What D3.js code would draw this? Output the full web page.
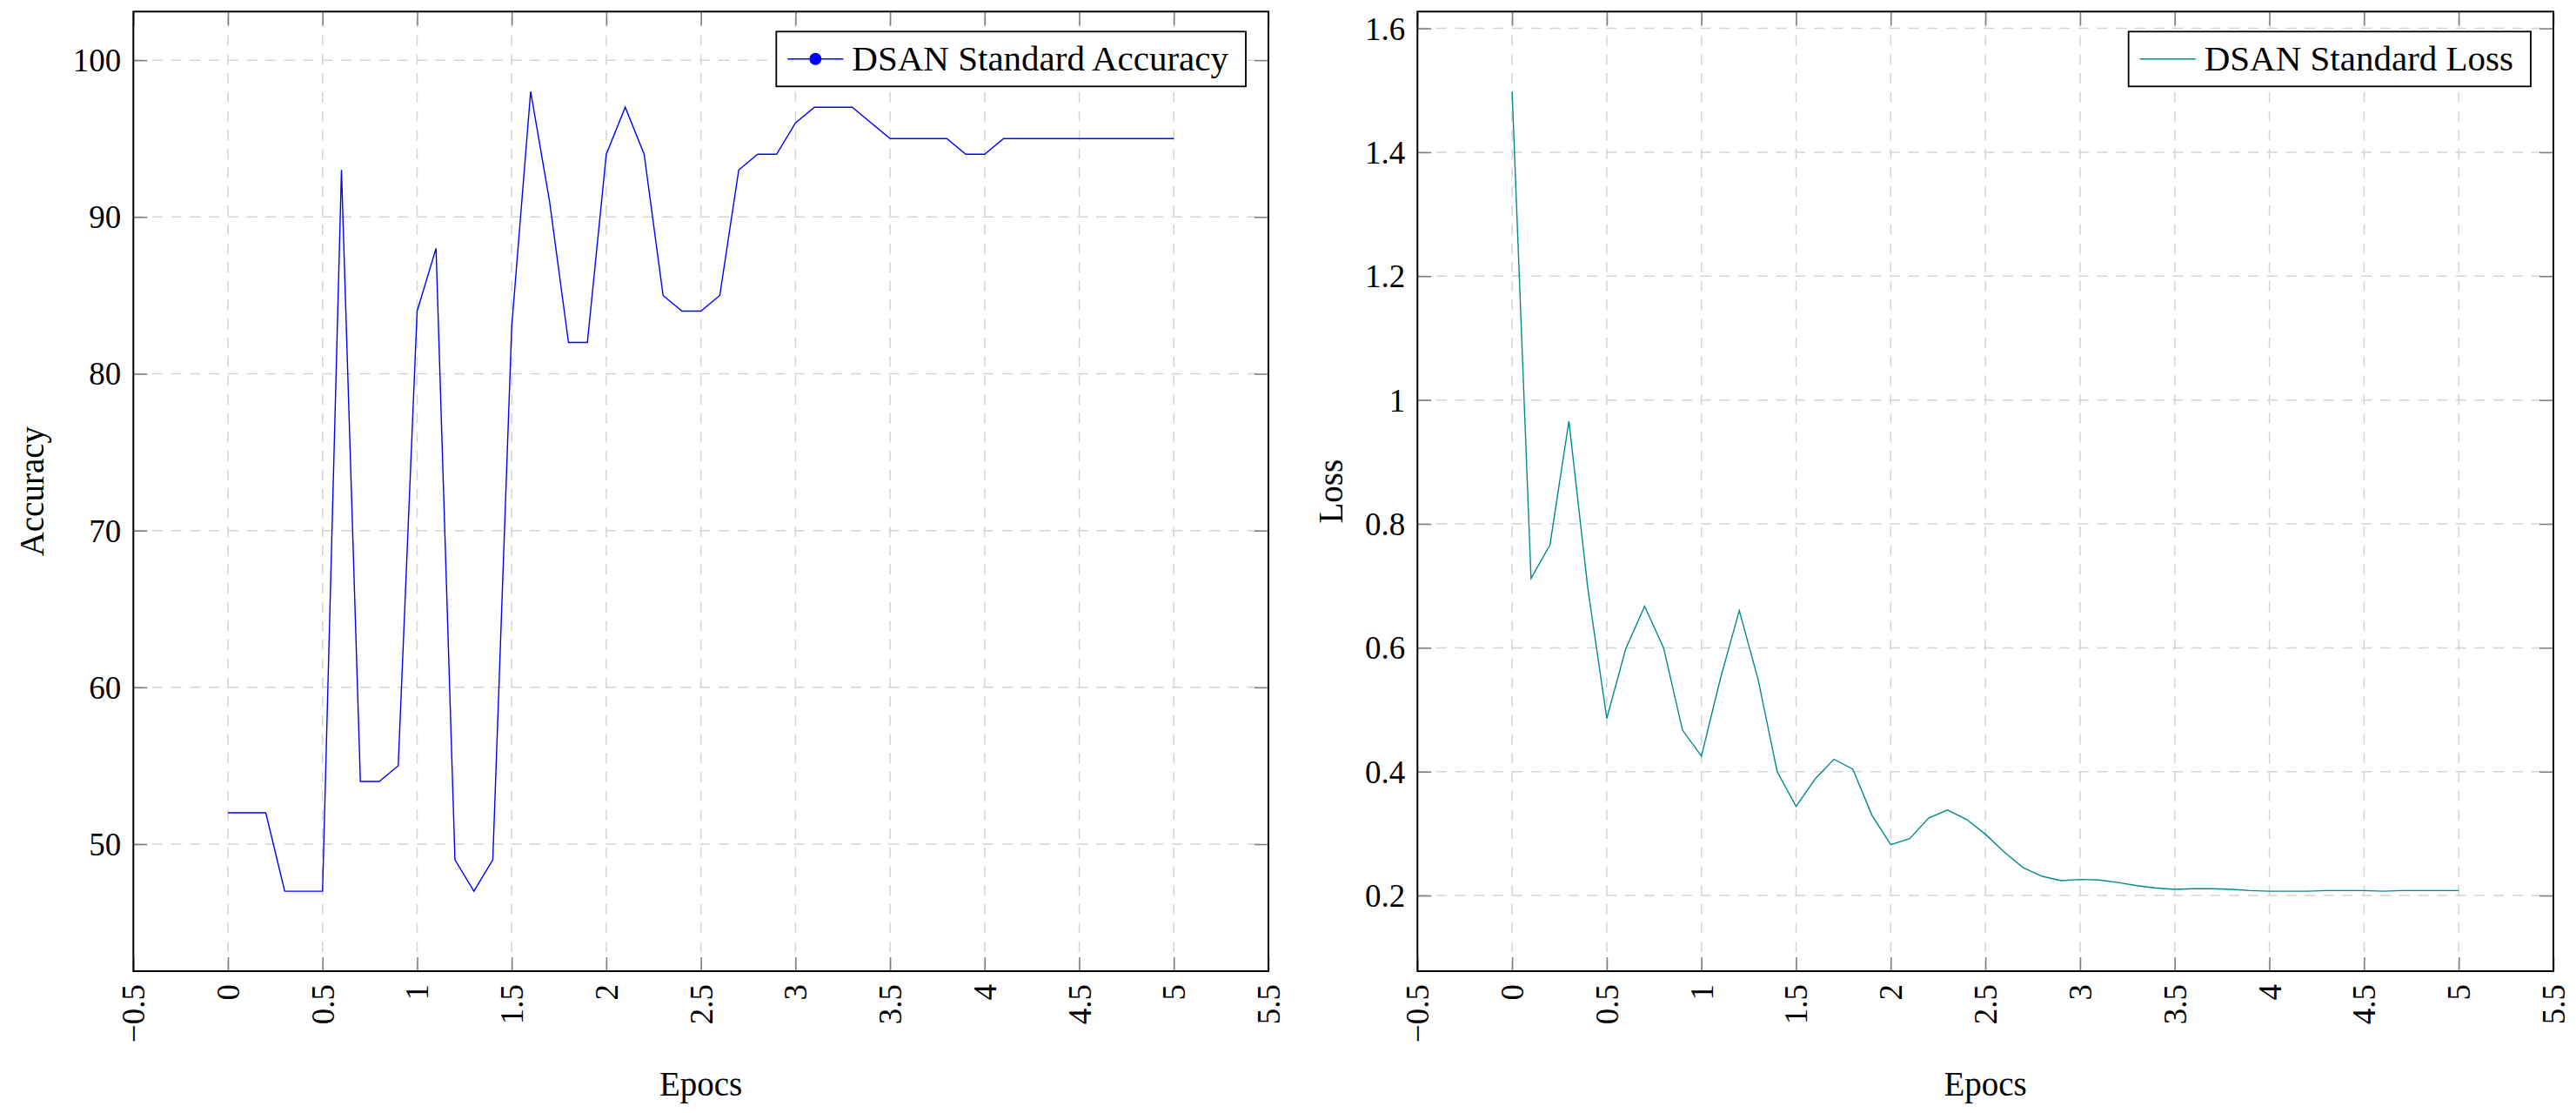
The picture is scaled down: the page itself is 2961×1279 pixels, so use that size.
<!DOCTYPE html>
<html>
<head>
<meta charset="utf-8">
<script src="https://cdn.jsdelivr.net/npm/d3@7"></script>
<style>
  html, body { margin: 0; padding: 0; background: #ffffff; }
  svg { display: block; }
  text { font-family: "Liberation Serif", "DejaVu Serif", serif; fill: #000; }
</style>
</head>
<body>
<svg id="chart" width="2961" height="1279" font-family="Liberation Serif, DejaVu Serif, serif"></svg>
<script>
// ---------------- DATA ----------------
const epochs = [0.0,0.1,0.2,0.3,0.4,0.5,0.6,0.7,0.8,0.9,
                1.0,1.1,1.2,1.3,1.4,1.5,1.6,1.7,1.8,1.9,
                2.0,2.1,2.2,2.3,2.4,2.5,2.6,2.7,2.8,2.9,
                3.0,3.1,3.2,3.3,3.4,3.5,3.6,3.7,3.8,3.9,
                4.0,4.1,4.2,4.3,4.4,4.5,4.6,4.7,4.8,4.9,5.0];

const accuracy = [52,52,52,47,47,47,93,54,54,55,
                  84,88,49,47,49,83,98,91,82,82,
                  94,97,94,85,84,84,85,93,94,94,
                  96,97,97,97,96,95,95,95,95,94,
                  94,95,95,95,95,95,95,95,95,95,95];

const loss = [1.498,0.712,0.766,0.966,0.696,0.486,0.598,0.667,0.600,0.467,
              0.425,0.550,0.660,0.548,0.400,0.344,0.388,0.420,0.404,0.330,
              0.282,0.292,0.325,0.338,0.323,0.299,0.270,0.245,0.231,0.224,
              0.226,0.225,0.221,0.216,0.212,0.210,0.211,0.211,0.210,0.208,
              0.207,0.207,0.207,0.208,0.208,0.208,0.207,0.208,0.208,0.208,0.208];

const xTicks = [-0.5,0,0.5,1,1.5,2,2.5,3,3.5,4,4.5,5,5.5];
const accTicks = [50,60,70,80,90,100];
const lossTicks = [0.2,0.4,0.6,0.8,1.0,1.2,1.4,1.6];

const accLegend = "DSAN Standard Accuracy";
const lossLegend = "DSAN Standard Loss";
const xLabel = "Epocs";
const accLabel = "Accuracy";
const lossLabel = "Loss";

// ---------------- LAYOUT ----------------
const svg = d3.select("#chart");
const TOP = 13.3, BOTTOM = 1116;

function enlarge(vals) {
  const mn = d3.min(vals), mx = d3.max(vals), r = mx - mn;
  return [mn - 0.1 * r, mx + 0.1 * r];
}

function fmt(v) {
  const s = String(+v.toFixed(2));
  return s.replace("-", "\u2212");
}

function drawPanel(opt) {
  const g = svg.append("g");
  const x = d3.scaleLinear().domain(enlarge(epochs)).range([opt.left, opt.right]);
  const y = d3.scaleLinear().domain(enlarge(opt.values)).range([BOTTOM, TOP]);

  // grid
  const grid = g.append("g").attr("stroke", "#d4d4d4").attr("stroke-width", 1.5)
    .attr("stroke-dasharray", "12,9.7").attr("fill", "none");
  xTicks.forEach(t => {
    grid.append("line").attr("x1", x(t)).attr("x2", x(t)).attr("y1", BOTTOM).attr("y2", TOP);
  });
  opt.ticks.forEach(t => {
    grid.append("line").attr("x1", opt.left).attr("x2", opt.right).attr("y1", y(t)).attr("y2", y(t));
  });

  // axes via d3 axis generators (inner ticks, gray)
  const tickLen = 16;
  const axB = d3.axisBottom(x).tickValues(xTicks).tickSize(-tickLen).tickFormat("");
  const axT = d3.axisTop(x).tickValues(xTicks).tickSize(-tickLen).tickFormat("");
  const axL = d3.axisLeft(y).tickValues(opt.ticks).tickSize(-tickLen).tickFormat("");
  const axR = d3.axisRight(y).tickValues(opt.ticks).tickSize(-tickLen).tickFormat("");
  [[axB, `translate(0,${BOTTOM})`], [axT, `translate(0,${TOP})`],
   [axL, `translate(${opt.left},0)`], [axR, `translate(${opt.right},0)`]].forEach(([a, tr]) => {
    const ag = g.append("g").attr("transform", tr).call(a);
    ag.select(".domain").remove();
    ag.selectAll(".tick line").attr("stroke", "#808080").attr("stroke-width", 1.6);
  });

  // data line
  const line = d3.line().x((d, i) => x(epochs[i])).y(d => y(d));
  g.append("path").datum(opt.values).attr("d", line)
    .attr("fill", "none").attr("stroke", opt.color).attr("stroke-width", 1.4)
    .attr("stroke-linejoin", "miter");

  // frame
  g.append("rect").attr("x", opt.left).attr("y", TOP)
    .attr("width", opt.right - opt.left).attr("height", BOTTOM - TOP)
    .attr("fill", "none").attr("stroke", "#000").attr("stroke-width", 2);

  // x tick labels (rotated)
  xTicks.forEach(t => {
    g.append("text")
      .attr("transform", `translate(${x(t)},1131) rotate(-90)`)
      .attr("text-anchor", "end").attr("dy", "0.35em")
      .attr("font-size", 37).text(fmt(t));
  });
  // y tick labels
  opt.ticks.forEach(t => {
    g.append("text").attr("x", opt.left - 14).attr("y", y(t))
      .attr("text-anchor", "end").attr("dy", "0.35em")
      .attr("font-size", 37).text(fmt(t));
  });

  // axis labels
  g.append("text").attr("x", (opt.left + opt.right) / 2).attr("y", 1258.5)
    .attr("text-anchor", "middle").attr("font-size", 39).text(xLabel);
  g.append("text")
    .attr("transform", `translate(${opt.ylabX},${(TOP + BOTTOM) / 2}) rotate(-90)`)
    .attr("text-anchor", "middle").attr("font-size", 39).text(opt.ylabel);

  // legend
  const lg = g.append("g");
  const boxTop = TOP + 23, boxH = 63, cy = boxTop + boxH / 2;
  const txt = lg.append("text").attr("font-size", 41).attr("y", cy + 12.8).text(opt.legend);
  const tw = txt.node().getComputedTextLength();
  const boxW = 13 + 64 + 10 + tw + 20;
  const bx = opt.right - 26 - boxW;
  lg.insert("rect", "text").attr("x", bx).attr("y", boxTop).attr("width", boxW).attr("height", boxH)
    .attr("fill", "#fff").attr("stroke", "#000").attr("stroke-width", 1.8);
  lg.append("line").attr("x1", bx + 13).attr("x2", bx + 77).attr("y1", cy).attr("y2", cy)
    .attr("stroke", opt.color).attr("stroke-width", 1.6);
  if (opt.marker) {
    lg.append("circle").attr("cx", bx + 45).attr("cy", cy).attr("r", 7).attr("fill", opt.color);
  }
  txt.attr("x", bx + 87);
}

drawPanel({ left: 153.3, right: 1458, values: accuracy, ticks: accTicks, color: "#0000ff",
            legend: accLegend, ylabel: accLabel, ylabX: 50, marker: true });
drawPanel({ left: 1629.3, right: 2935, values: loss, ticks: lossTicks, color: "#008b8b",
            legend: lossLegend, ylabel: lossLabel, ylabX: 1543, marker: false });
</script>
</body>
</html>
